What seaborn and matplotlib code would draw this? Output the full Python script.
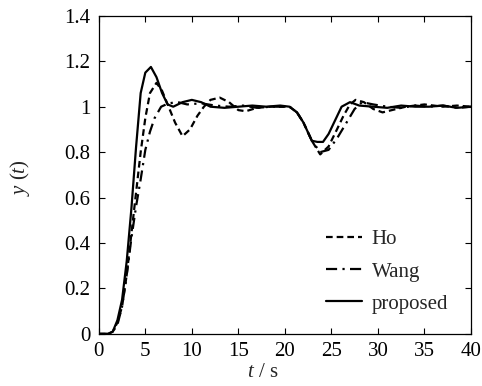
import matplotlib
matplotlib.use("Agg")
import matplotlib.pyplot as plt
import seaborn as sns
import pandas as pd

# Step responses of three controllers (setpoint step at t=0, load disturbance near t=20 s)
t_ho = [0, 1.0, 1.5, 2.0, 2.5, 3.0, 3.5, 4.0, 4.5, 5.0, 5.5, 6.2, 6.8, 7.5, 8.2, 9.0,
        9.8, 10.6, 11.3, 12.0, 13.0, 14.0, 15.0, 15.8, 17.0, 18.5, 20.5, 21.3, 22.0,
        22.9, 23.8, 24.7, 25.6, 26.3, 27.0, 27.6, 28.5, 29.5, 30.5, 31.5, 33, 35, 37,
        38.5, 40]
y_ho = [0, 0, 0.01, 0.05, 0.12, 0.26, 0.44, 0.62, 0.8, 0.95, 1.06, 1.105, 1.07, 1.0,
        0.93, 0.87, 0.9, 0.96, 1.0, 1.03, 1.04, 1.02, 0.985, 0.98, 0.995, 1.0, 1.0,
        0.975, 0.93, 0.85, 0.79, 0.825, 0.9, 0.96, 1.01, 1.03, 1.02, 0.99, 0.975,
        0.985, 1.0, 1.01, 1.0, 1.005, 1.0]

t_wang = [0, 1.0, 1.5, 2.0, 2.5, 3.0, 3.5, 4.0, 4.5, 5.0, 5.5, 6.0, 6.7, 7.5, 8.5,
          9.5, 11, 12.5, 14, 15.5, 17, 18.5, 20.5, 21.3, 22.0, 22.9, 23.8, 24.7, 25.6,
          26.7, 27.5, 28.3, 29.5, 31, 32.5, 34, 35.5, 37, 38.5, 40]
y_wang = [0, 0, 0.01, 0.04, 0.12, 0.26, 0.42, 0.56, 0.68, 0.81, 0.89, 0.95, 1.0,
          1.015, 1.02, 1.01, 1.015, 1.005, 1.0, 1.005, 0.995, 1.0, 1.0, 0.975, 0.93,
          0.85, 0.8, 0.81, 0.86, 0.935, 0.99, 1.02, 1.01, 1.0, 0.995, 1.005, 1.0,
          1.005, 0.995, 1.0]

t_prop = [0, 1.0, 1.5, 2.0, 2.5, 3.0, 3.5, 4.0, 4.5, 5.0, 5.6, 6.2, 6.8, 7.4, 8.0,
          9.0, 10.0, 11.0, 12.0, 13.5, 15, 16.5, 18, 19.5, 20.5, 21.3, 22.0, 22.9,
          23.5, 24.1, 24.7, 25.4, 26.1, 27.0, 28.0, 29.5, 31, 32.5, 34, 35.5, 37,
          38.5, 40]
y_prop = [0, 0, 0.01, 0.06, 0.15, 0.32, 0.55, 0.82, 1.06, 1.15, 1.175, 1.13, 1.06,
          1.01, 1.0, 1.02, 1.03, 1.02, 1.0, 0.995, 1.0, 1.005, 1.0, 1.005, 1.0, 0.975,
          0.93, 0.85, 0.845, 0.845, 0.88, 0.94, 1.0, 1.02, 1.005, 1.0, 0.995, 1.005,
          1.0, 1.0, 1.005, 0.995, 1.0]

methods = ["Ho", "Wang", "proposed"]
x_ticks = [0, 5, 10, 15, 20, 25, 30, 35, 40]
y_ticks = [0, 0.2, 0.4, 0.6, 0.8, 1.0, 1.2, 1.4]
y_tick_labels = ["0", "0.2", "0.4", "0.6", "0.8", "1", "1.2", "1.4"]

df = pd.concat([
    pd.DataFrame({"t": t_ho, "y": y_ho, "method": "Ho"}),
    pd.DataFrame({"t": t_wang, "y": y_wang, "method": "Wang"}),
    pd.DataFrame({"t": t_prop, "y": y_prop, "method": "proposed"}),
], ignore_index=True)

sns.set_style("ticks")
plt.rcParams["font.family"] = ["Liberation Serif", "DejaVu Serif"]
plt.rcParams["mathtext.fontset"] = "custom"
plt.rcParams["mathtext.rm"] = "Liberation Serif"
plt.rcParams["mathtext.it"] = "Liberation Serif:italic"

FS = 15

fig = plt.figure(figsize=(4.82, 3.86), dpi=100)
ax = fig.add_axes([0.205, 0.135, 0.772, 0.824])

sns.lineplot(
    data=df, x="t", y="y", style="method", style_order=methods,
    dashes={"Ho": (3, 1.8), "Wang": (5, 2.4, 1, 2.4), "proposed": ""},
    color="black", linewidth=1.6, estimator=None, sort=False, ax=ax,
)

ax.set_xlim(0, 40)
ax.set_ylim(0, 1.4)
ax.set_xticks(x_ticks)
ax.set_yticks(y_ticks)
ax.set_yticklabels(y_tick_labels)
ax.tick_params(direction="in", top=True, right=True, length=4, width=0.8,
               labelsize=FS, colors="black")
ax.tick_params(axis="x", pad=6)
ax.tick_params(axis="y", pad=6)
for s in ax.spines.values():
    s.set_linewidth(0.9)
    s.set_color("black")

ax.set_xlabel(r"$t$ / s", fontsize=FS)
ax.set_ylabel(r"$y\ (t)$", fontsize=FS)
ax.xaxis.set_label_coords(0.44, -0.093)
ax.yaxis.set_label_coords(-0.18, 0.49)

leg = ax.legend(loc="upper left", bbox_to_anchor=(0.61, 0.327), frameon=False,
                fontsize=FS, handlelength=1.75, handletextpad=0.45,
                labelspacing=0.6, borderaxespad=0, borderpad=0)
for line in leg.get_lines():
    line.set_linewidth(1.6)

fig.savefig("out.png", dpi=100)
